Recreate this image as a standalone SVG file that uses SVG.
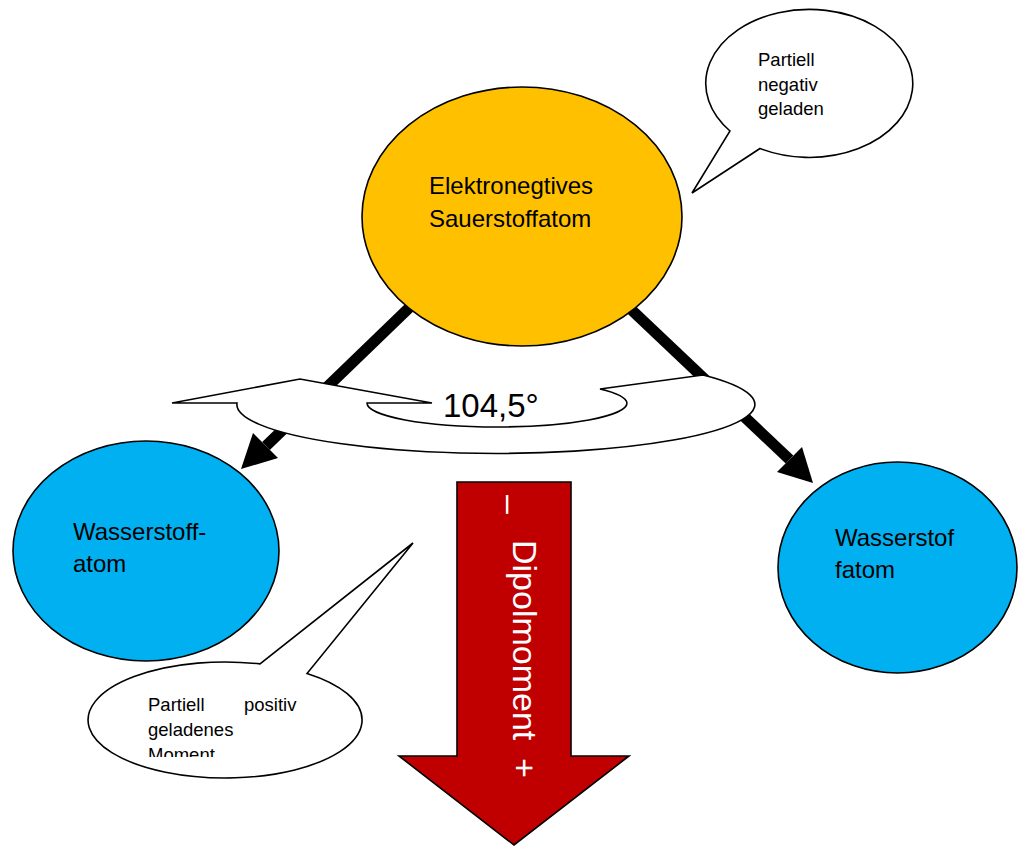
<svg xmlns="http://www.w3.org/2000/svg" width="1018" height="846" viewBox="0 0 1018 846">
  <style>
    .txt { font-family: "Liberation Sans", Arial, sans-serif; fill: #000; }
    .big { font-size: 24px; }
    .small { font-size: 18.5px; }
    .outline { stroke: #000; stroke-width: 1.6; }
    .bond { stroke: #000; stroke-width: 11; fill: none; }
    .head { fill: #000; stroke: none; }
  </style>
  <defs>
    <clipPath id="bubbleClip">
      <rect x="80" y="640" width="300" height="117"/>
    </clipPath>
  </defs>
  <rect width="1018" height="846" fill="#fff"/>

  <g id="connectors">
    <line class="bond" x1="440" y1="278" x2="266" y2="446"/>
    <polygon class="head" points="253,433 241,469 278,458"/>
    <line class="bond" x1="600" y1="280" x2="789.5" y2="459.5"/>
    <polygon class="head" points="777,472 813,483 802,447"/>
  </g>

  <g id="sauerstoff">
    <ellipse class="outline" cx="522" cy="216.5" rx="160" ry="129.5" fill="#FFC000"/>
    <text class="txt big" x="429" y="194">Elektronegtives</text>
    <text class="txt big" x="429" y="227">Sauerstoffatom</text>
  </g>

  <g id="bubble-negativ">
    <path class="outline" fill="#fff" d="M760,148.5 A103.5,74 0 1 0 730,131 L692,193 Z"/>
    <text class="txt small" x="758" y="65.5">Partiell</text>
    <text class="txt small" x="758" y="90.5">negativ</text>
    <text class="txt small" x="758" y="115">geladen</text>
  </g>

  <g id="winkel">
    <path class="outline" fill="#fff" d="M172,403 L300,379 L432,403 L367,403 A130,24 0 0 0 627,403 A130,24 0 0 0 600,389 L703,375 A259,49 0 1 1 237,403 Z"/>
    <text class="txt" x="443" y="417" font-size="33">104,5°</text>
  </g>

  <g id="wasserstoff-links">
    <ellipse class="outline" cx="146" cy="551" rx="133" ry="110" fill="#00B0F0"/>
    <text class="txt big" x="73" y="540">Wasserstoff-</text>
    <text class="txt big" x="73" y="572">atom</text>
  </g>

  <g id="wasserstoff-rechts">
    <ellipse class="outline" cx="897.5" cy="567.5" rx="119.5" ry="105.5" fill="#00B0F0"/>
    <text class="txt big" x="835" y="546">Wasserstof</text>
    <text class="txt big" x="835" y="578">fatom</text>
  </g>

  <g id="bubble-positiv">
    <path class="outline" fill="#fff" d="M307,673.5 A137,58 0 1 1 260,663.9 L413,543 Z"/>
    <g clip-path="url(#bubbleClip)">
      <text class="txt small" x="148" y="711">Partiell</text>
      <text class="txt small" x="244" y="711">positiv</text>
      <text class="txt small" x="148" y="736">geladenes</text>
      <text class="txt small" x="148" y="761">Moment</text>
    </g>
  </g>

  <g id="dipolmoment">
    <polygon class="outline" fill="#C00000" points="457,482 571,482 571,756 629,756 514,845 399,756 457,756"/>
    <text class="txt" font-size="34" style="fill:#fff" transform="translate(513,0) rotate(90)"><tspan x="495" y="14">–</tspan><tspan x="540" y="0">Dipolmoment</tspan><tspan x="758" y="0">+</tspan></text>
  </g>
</svg>
